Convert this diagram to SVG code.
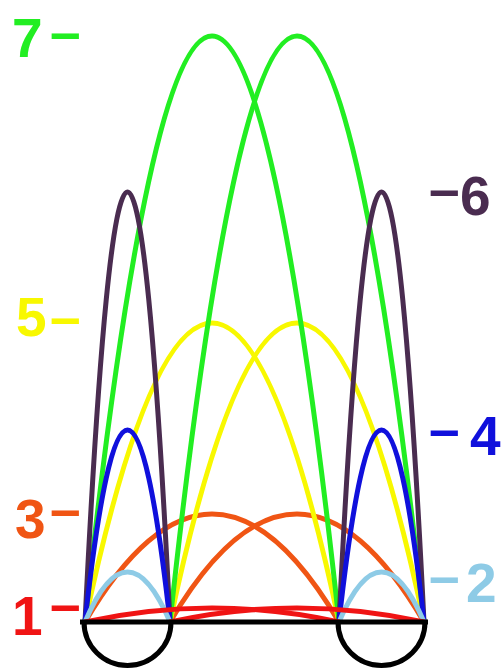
<svg xmlns="http://www.w3.org/2000/svg" width="504" height="668" viewBox="0 0 504 668">
<style>
.arc{fill:none;stroke-width:5;stroke-linecap:round}
.lbl{font-family:"Liberation Sans",Arial,sans-serif;font-weight:bold;font-size:55px}
.c1{stroke:#f01414}.c2{stroke:#8ecbe6}.c3{stroke:#f05514}.c4{stroke:#1010dc}.c5{stroke:#f8f800}.c6{stroke:#4a2c50}.c7{stroke:#22ee22}
</style>
<rect width="504" height="668" fill="#fff"/>
<g id="connectors">
<path class="arc c3" d="M85,622 Q212,406 339,622"/>
<path class="arc c3" d="M170,622 Q297,406 424,622"/>
<path class="arc c5" d="M85,622 Q212,24 339,622"/>
<path class="arc c5" d="M170,622 Q297,24 424,622"/>
<path class="arc c7" d="M85,622 Q212,-550 339,622"/>
<path class="arc c7" d="M170,622 Q297,-550 424,622"/>
<path class="arc c6" d="M85,622 Q127.5,-238 170,622"/>
<path class="arc c6" d="M339,622 Q381.5,-238 424,622"/>
<path class="arc c4" d="M85,622 Q127.5,238 170,622"/>
<path class="arc c4" d="M339,622 Q381.5,238 424,622"/>
<path class="arc c2" d="M85,622 Q127.5,522 170,622"/>
<path class="arc c2" d="M339,622 Q381.5,522 424,622"/>
<path class="arc c1" d="M85,622 Q212,594 339,622"/>
<path class="arc c1" d="M170,622 Q297,594 424,622"/>
</g>
<g id="base" fill="none" stroke="#000" stroke-width="5">
<path d="M84,622 A43.5,43.5 0 0 0 171,622"/>
<path d="M338,622 A43.5,43.5 0 0 0 425,622"/>
<line x1="80" y1="622" x2="428" y2="622"/>
</g>
<g id="label-7"><text class="lbl" x="12" y="57" fill="#22ee22">7<tspan x="50" y="51">–</tspan></text></g>
<g id="label-6"><text class="lbl" x="429" y="208" fill="#4a2c50">–<tspan x="460" y="215">6</tspan></text></g>
<g id="label-5"><text class="lbl" x="16" y="336" fill="#f8f800">5<tspan x="50" y="336">–</tspan></text></g>
<g id="label-4"><text class="lbl" x="429" y="448" fill="#1010dc">–<tspan x="470" y="455">4</tspan></text></g>
<g id="label-3"><text class="lbl" x="15" y="538" fill="#f05514">3<tspan x="50" y="528">–</tspan></text></g>
<g id="label-2"><text class="lbl" x="429" y="595" fill="#8ecbe6">–<tspan x="466" y="602">2</tspan></text></g>
<g id="label-1"><text class="lbl" x="12" y="635" fill="#f01414">1<tspan x="50" y="623">–</tspan></text></g>
</svg>
